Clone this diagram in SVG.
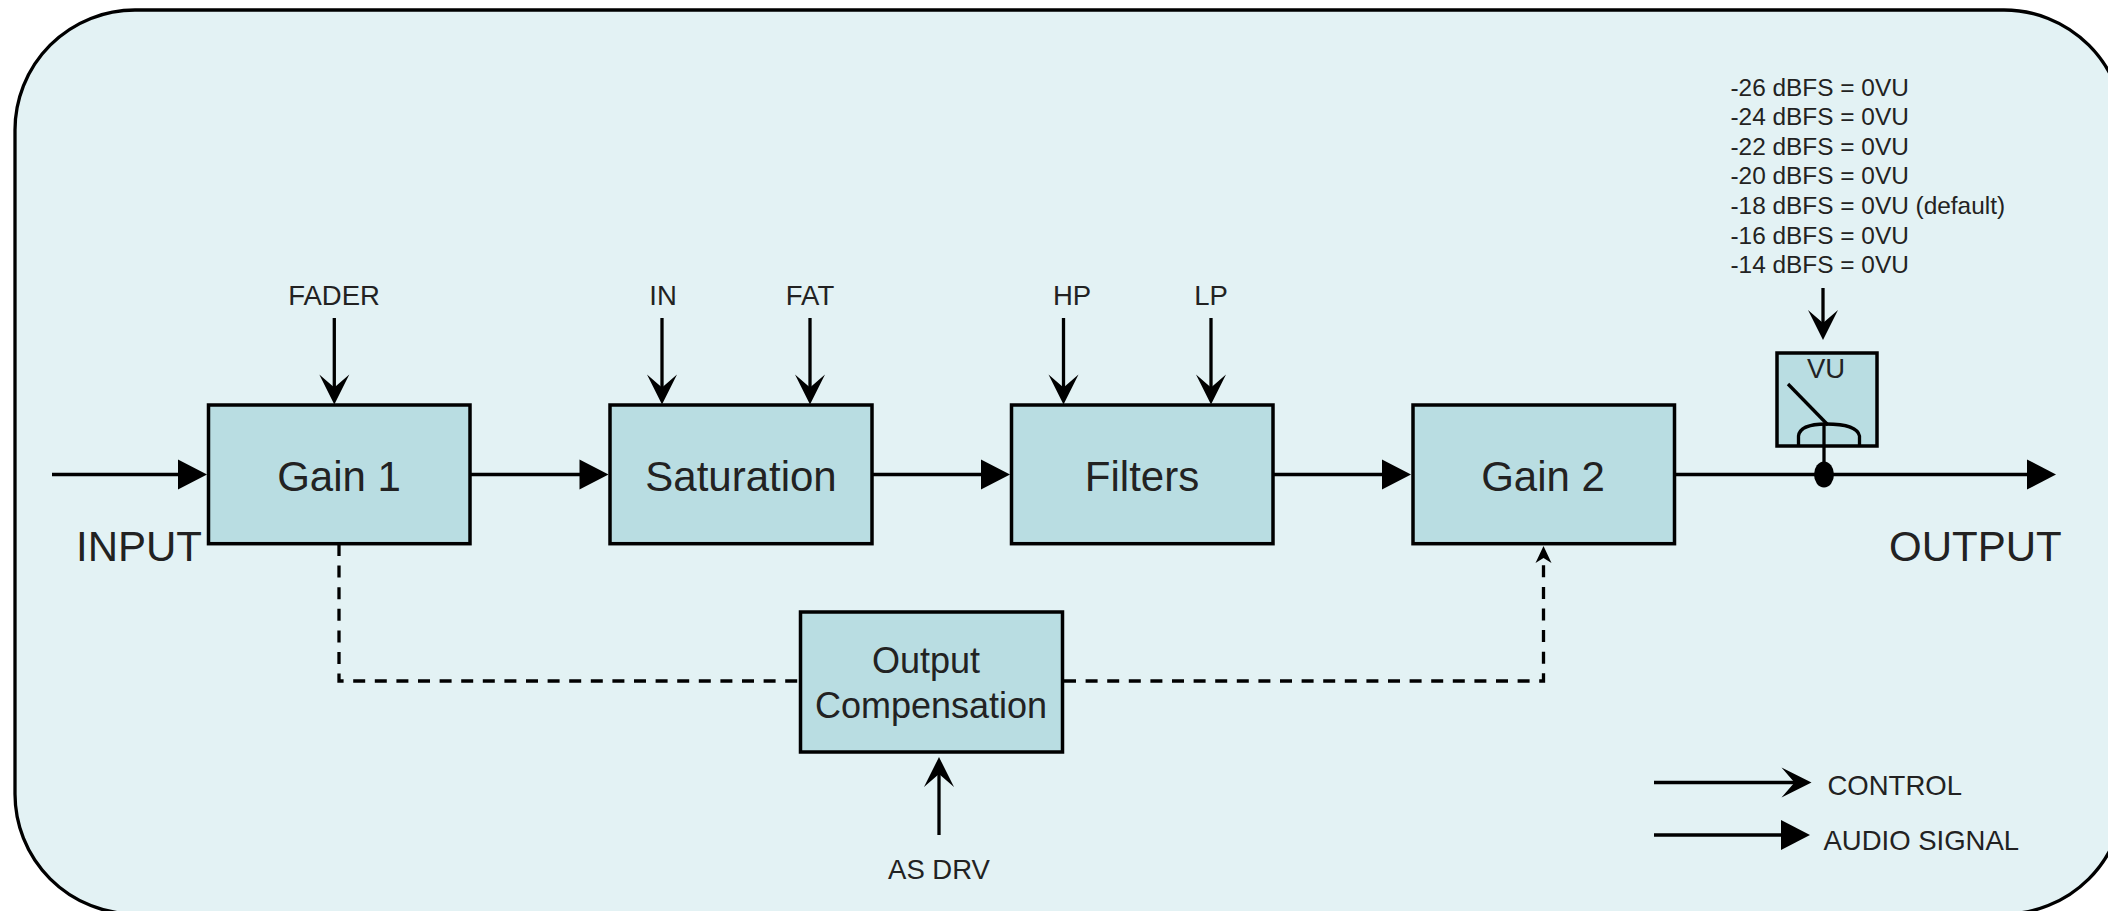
<svg xmlns="http://www.w3.org/2000/svg" width="2108" height="911" viewBox="0 0 2108 911">
<style>
text{font-family:"Liberation Sans",Arial,sans-serif;fill:#222}
.l{font-size:42px}.m{font-size:36px}.s{font-size:27.500px}.t{font-size:24.400px}
.c{text-anchor:middle}
.box{fill:#b9dde2;stroke:#000;stroke-width:3.500}
.w{fill:none;stroke:#000;stroke-width:3.300}
.d{fill:none;stroke:#000;stroke-width:3.300;stroke-dasharray:12 9.600}
.h{fill:#000;stroke:none}
</style>
<defs>
<path id="tri" class="h" d="M0 0L-29 -15L-29 15Z"/>
<path id="barb" class="h" d="M0 0L-15 -30L0 -17L15 -30Z"/>
</defs>
<rect id="bg" x="0" y="0" width="2108" height="911" fill="#fff"/>
<rect id="panel" x="15" y="10" width="2109" height="904" rx="120" ry="120" fill="#e3f2f4" stroke="#000" stroke-width="3.300"/>
<g id="connectors">
<path class="w" d="M52 474.500H180"/><use href="#tri" x="207" y="474.500"/>
<path class="w" d="M470 474.500H582"/><use href="#tri" x="608.500" y="474.500"/>
<path class="w" d="M872 474.500H983"/><use href="#tri" x="1010" y="474.500"/>
<path class="w" d="M1273 474.500H1384"/><use href="#tri" x="1411" y="474.500"/>
<path class="w" d="M1674 474.500H2030"/><use href="#tri" x="2056" y="474.500"/>
<path class="w" d="M334.300 318V390"/><use href="#barb" x="334.300" y="404.500"/>
<path class="w" d="M662 318V390"/><use href="#barb" x="662" y="404.500"/>
<path class="w" d="M810 318V390"/><use href="#barb" x="810" y="404.500"/>
<path class="w" d="M1063.500 318V390"/><use href="#barb" x="1063.500" y="404.500"/>
<path class="w" d="M1211 318V390"/><use href="#barb" x="1211" y="404.500"/>
<path class="w" d="M1823 288V326"/><use href="#barb" x="1823" y="340"/>
<path class="w" d="M939 835V772"/><use href="#barb" transform="translate(939 757) rotate(180)"/>
<path class="d" d="M339 544V681H799"/>
<path class="d" d="M1064 681H1543.500V556"/>
<path class="h" d="M1543.500 546L1535.500 563L1543.500 558L1551.500 563Z"/>
</g>
<g id="gain1"><rect class="box" x="208.500" y="405" width="261.500" height="138.700"/><text class="l c" x="339" y="491">Gain 1</text></g>
<g id="saturation"><rect class="box" x="610" y="405" width="262" height="138.700"/><text class="l c" x="741" y="491">Saturation</text></g>
<g id="filters"><rect class="box" x="1011.500" y="405" width="261.500" height="138.700"/><text class="l c" x="1142" y="491">Filters</text></g>
<g id="gain2"><rect class="box" x="1413" y="405" width="261.500" height="138.700"/><text class="l c" x="1543" y="491">Gain 2</text></g>
<g id="outcomp"><rect class="box" x="800.500" y="612" width="262" height="140"/><text class="m c" x="926" y="673">Output</text><text class="m c" x="931" y="717.500">Compensation</text></g>
<g id="vu">
<rect class="box" x="1777" y="353" width="100" height="93"/>
<text class="s c" x="1826" y="377.500">VU</text>
<path class="w" d="M1788 384L1828 425"/>
<path class="w" d="M1798.500 445V436Q1800 424 1826 424Q1857 424 1859.500 436V445"/>
<path class="w" d="M1824 424V474"/>
<ellipse class="h" cx="1824" cy="474.500" rx="10" ry="13"/>
</g>
<g id="labels">
<text class="l" x="76" y="561">INPUT</text>
<text class="l" x="1889" y="561">OUTPUT</text>
<text class="s c" x="334" y="304.500">FADER</text>
<text class="s c" x="663" y="304.500">IN</text>
<text class="s c" x="810" y="304.500">FAT</text>
<text class="s c" x="1072" y="304.500">HP</text>
<text class="s c" x="1211" y="304.500">LP</text>
<text class="s c" x="939" y="878.500">AS DRV</text>
<text class="t" x="1730.500" y="95.500">-26 dBFS = 0VU</text>
<text class="t" x="1730.500" y="125">-24 dBFS = 0VU</text>
<text class="t" x="1730.500" y="154.500">-22 dBFS = 0VU</text>
<text class="t" x="1730.500" y="183.500">-20 dBFS = 0VU</text>
<text class="t" x="1730.500" y="213.500">-18 dBFS = 0VU (default)</text>
<text class="t" x="1730.500" y="243.500">-16 dBFS = 0VU</text>
<text class="t" x="1730.500" y="272.500">-14 dBFS = 0VU</text>
</g>
<g id="legend">
<path class="w" d="M1654 782.500H1795"/>
<use href="#barb" transform="translate(1811.500 782.500) rotate(-90)"/>
<path class="w" d="M1654 835H1783"/>
<use href="#tri" x="1810" y="835"/>
<text class="s" x="1827.500" y="795">CONTROL</text>
<text class="s" x="1823.500" y="849.500">AUDIO SIGNAL</text>
</g>
</svg>
